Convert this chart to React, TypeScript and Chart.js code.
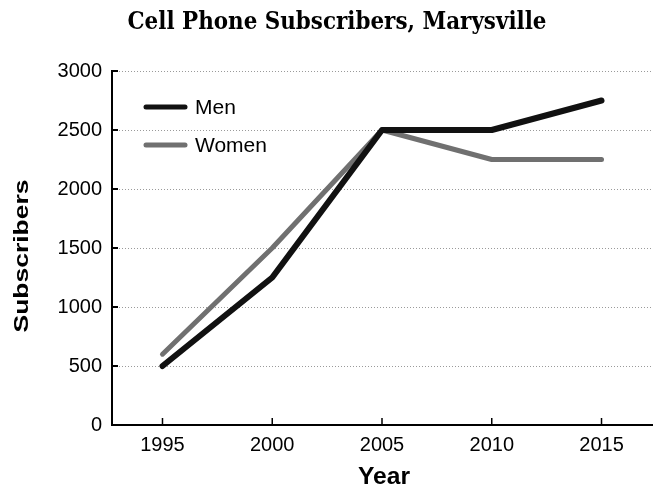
import React, { useEffect, useRef } from "react";
import { Chart, registerables } from "chart.js";

Chart.register(...registerables);

const years = [1995, 2000, 2005, 2010, 2015];
const menValues = [500, 1250, 2500, 2500, 2750];
const womenValues = [600, 1500, 2500, 2250, 2250];
const seriesNames = ["Men", "Women"];
const yTicks = [0, 500, 1000, 1500, 2000, 2500, 3000];
const chartTitle = "Cell Phone Subscribers, Marysville";
const xTitle = "Year";
const yTitle = "Subscribers";

const menColor = "#111111";
const womenColor = "#707070";

function fitText(ctx: any, text: string, cx: number, baseY: number, width: number) {
  const w = ctx.measureText(text).width;
  const s = width / w;
  ctx.save();
  ctx.translate(cx, baseY);
  ctx.scale(s, 1);
  ctx.textAlign = "center";
  ctx.textBaseline = "alphabetic";
  ctx.fillText(text, 0, 0);
  ctx.restore();
}

const overlay = {
  id: "overlay",
  afterDraw(chart: any) {
    const ctx = chart.ctx;
    const area = chart.chartArea;
    const xs = chart.scales.x;
    const ysc = chart.scales.y;
    ctx.save();
    ctx.fillStyle = "#000";
    // title
    ctx.font = "bold 24px 'DejaVu Serif', serif";
    fitText(ctx, chartTitle, 337, 29, 419);
    // x title
    ctx.font = "bold 24px 'Liberation Sans', Arial, sans-serif";
    fitText(ctx, xTitle, 384, 484, 52);
    // y title
    ctx.save();
    ctx.translate(28, 256);
    ctx.rotate(-Math.PI / 2);
    ctx.font = "bold 21px 'Liberation Sans', Arial, sans-serif";
    fitText(ctx, yTitle, 0, 0, 153);
    ctx.restore();
    // x tick marks (inside)
    ctx.strokeStyle = "#000";
    ctx.lineWidth = 1.5;
    years.forEach((yr) => {
      const px = xs.getPixelForValue(yr);
      ctx.beginPath();
      ctx.moveTo(px, area.bottom);
      ctx.lineTo(px, area.bottom - 7);
      ctx.stroke();
    });
    // y tick marks (inside)
    ctx.lineWidth = 2;
    yTicks.forEach((v) => {
      const py = ysc.getPixelForValue(v);
      ctx.beginPath();
      ctx.moveTo(area.left, py);
      ctx.lineTo(area.left + 6, py);
      ctx.stroke();
    });
    // legend
    const colors = [menColor, womenColor];
    const lys = [107, 145];
    ctx.font = "21px 'Liberation Sans', Arial, sans-serif";
    ctx.textAlign = "left";
    ctx.textBaseline = "middle";
    seriesNames.forEach((name, i) => {
      ctx.strokeStyle = colors[i];
      ctx.lineWidth = 5;
      ctx.lineCap = "round";
      ctx.beginPath();
      ctx.moveTo(146, lys[i]);
      ctx.lineTo(185, lys[i]);
      ctx.stroke();
      ctx.fillStyle = "#000";
      ctx.fillText(name, 195, lys[i] + 1);
    });
    ctx.restore();
  },
};

export default function App() {
  const ref = useRef<HTMLCanvasElement>(null);
  useEffect(() => {
    if (!ref.current) return;
    const chart = new Chart(ref.current, {
      type: "line",
      data: {
        datasets: [
          {
            label: seriesNames[0],
            data: years.map((x, i) => ({ x, y: menValues[i] })),
            borderColor: menColor,
            borderWidth: 6,
            pointRadius: 0,
            tension: 0,
            borderCapStyle: "round",
            borderJoinStyle: "round",
          },
          {
            label: seriesNames[1],
            data: years.map((x, i) => ({ x, y: womenValues[i] })),
            borderColor: womenColor,
            borderWidth: 5,
            pointRadius: 0,
            tension: 0,
            borderCapStyle: "round",
            borderJoinStyle: "round",
          },
        ],
      },
      options: {
        animation: false,
        responsive: false,
        maintainAspectRatio: false,
        layout: { padding: { left: 0, right: 2, top: 71, bottom: 0 } },
        plugins: {
          legend: { display: false },
          title: { display: false },
          tooltip: { enabled: false },
        },
        scales: {
          x: {
            type: "linear",
            min: 1992.7,
            max: 2017.3,
            afterBuildTicks: (s: any) => {
              s.ticks = years.map((v) => ({ value: v }));
            },
            afterFit: (s: any) => {
              s.height = 62;
            },
            grid: { display: false, drawTicks: false },
            border: { display: true, color: "#000", width: 2 },
            ticks: {
              color: "#000",
              padding: 8,
              font: { family: "'Liberation Sans', Arial, sans-serif", size: 20 },
              callback: (v: any) => String(v),
            },
          },
          y: {
            type: "linear",
            min: 0,
            max: 3000,
            afterBuildTicks: (s: any) => {
              s.ticks = yTicks.map((v) => ({ value: v }));
            },
            afterFit: (s: any) => {
              s.width = 112;
            },
            grid: {
              color: "#9a9a9a",
              lineWidth: 1,
              drawTicks: false,
              tickLength: 0,
            },
            border: { display: true, color: "#000", width: 2, dash: [1, 2] },
            ticks: {
              color: "#000",
              padding: 10,
              font: { family: "'Liberation Sans', Arial, sans-serif", size: 20 },
              callback: (v: any) => String(v),
            },
          },
        },
      } as any,
      plugins: [overlay],
    });
    return () => chart.destroy();
  }, []);
  return (
    <div style={{ position: "absolute", left: 0, top: 0, width: 654, height: 487, background: "#fff" }}>
      <canvas ref={ref} width={654} height={487} style={{ width: 654, height: 487 }} />
    </div>
  );
}
